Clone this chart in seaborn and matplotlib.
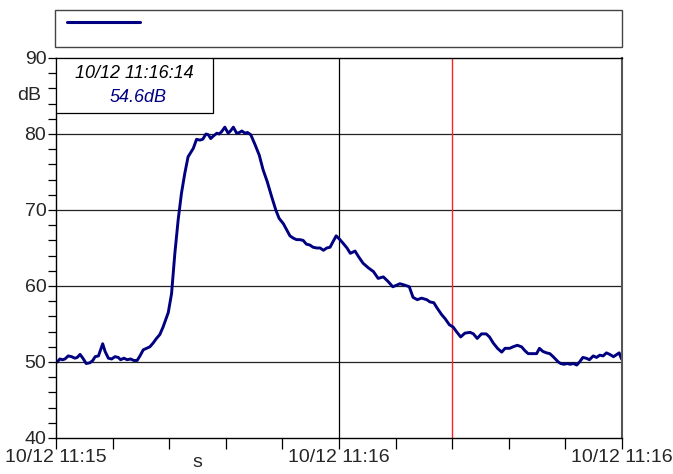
import pandas as pd
import matplotlib
matplotlib.use("Agg")
import matplotlib.pyplot as plt
import matplotlib.transforms as mtransforms
from matplotlib.patches import Rectangle
from matplotlib.lines import Line2D
import seaborn as sns

# seconds after 10/12 11:15
seconds = [0.0, 0.3, 0.8, 1.4, 1.9, 2.6, 3.3, 4.0, 4.5, 5.1, 5.7, 6.4, 7.2, 7.8, 8.3, 9.0,
           9.9, 10.4, 11.1, 11.8, 12.5, 13.2, 13.7, 14.4, 15.1, 15.8, 16.5, 17.2, 17.8,
           18.5, 19.2, 19.9, 20.6, 21.3, 22.0, 22.7, 23.8, 24.5, 25.2, 25.9, 26.6, 27.3,
           28.0, 29.1, 29.8, 30.5, 31.1, 31.8, 32.3, 32.8, 33.3, 34.1, 34.6, 35.1, 35.8,
           36.5, 37.0, 37.6, 38.3, 38.9, 39.4, 40.1, 40.6, 41.3, 42.2, 43.1, 43.9, 44.8,
           45.7, 46.6, 47.3, 48.2, 48.9, 49.6, 50.3, 51.0, 51.7, 52.4, 53.1, 53.8, 54.5,
           55.3, 56.0, 56.7, 57.4, 58.1, 58.7, 59.4, 60.2, 60.9, 61.7, 62.4, 63.4, 64.1,
           65.1, 66.2, 67.3, 68.3, 69.4, 70.4, 71.4, 72.2, 72.9, 74.0, 74.9, 75.7, 76.6,
           77.5, 78.6, 79.3, 80.1, 80.8, 81.8, 82.5, 83.4, 84.2, 84.9, 85.8, 86.7, 87.8,
           88.5, 89.3, 90.2, 91.2, 91.9, 92.7, 93.6, 94.5, 95.2, 96.2, 96.9, 97.8, 98.7,
           99.4, 100.1, 101.1, 101.9, 102.5, 103.2, 104.0, 104.7, 105.4, 106.5, 107.0,
           107.7, 108.4, 109.0, 109.7, 110.4, 111.0, 111.7, 112.4, 113.1, 113.9, 114.6,
           115.3, 116.0, 116.7, 117.4, 118.2, 118.9, 119.4, 119.9]
level_db = [50.1, 50.0, 50.4, 50.3, 50.4, 50.8, 50.7, 50.5, 50.6, 51.0, 50.5, 49.8, 49.9,
            50.2, 50.7, 50.8, 52.4, 51.4, 50.5, 50.4, 50.7, 50.6, 50.3, 50.5, 50.3, 50.4,
            50.2, 50.2, 50.8, 51.6, 51.8, 52.0, 52.5, 53.1, 53.6, 54.6, 56.5, 59.0, 64.3,
            68.7, 72.2, 74.8, 77.0, 78.1, 79.3, 79.2, 79.3, 80.0, 79.9, 79.4, 79.7, 80.1,
            80.0, 80.3, 80.9, 80.1, 80.4, 80.9, 80.1, 80.2, 80.4, 80.1, 80.2, 79.9, 78.6,
            77.2, 75.3, 73.7, 71.8, 70.0, 68.9, 68.2, 67.4, 66.6, 66.3, 66.1, 66.1, 66.0,
            65.5, 65.4, 65.1, 65.0, 65.0, 64.7, 65.0, 65.1, 65.8, 66.6, 66.1, 65.6, 65.0,
            64.3, 64.6, 63.9, 63.0, 62.4, 61.9, 61.0, 61.2, 60.6, 59.9, 60.1, 60.3, 60.1,
            59.9, 58.5, 58.2, 58.4, 58.2, 57.9, 57.8, 57.1, 56.2, 55.7, 54.9, 54.6, 54.0,
            53.3, 53.8, 53.9, 53.7, 53.1, 53.7, 53.7, 53.3, 52.5, 51.8, 51.3, 51.8, 51.8,
            52.0, 52.2, 52.0, 51.5, 51.1, 51.1, 51.1, 51.8, 51.4, 51.2, 51.1, 50.7, 50.0,
            49.8, 49.7, 49.8, 49.7, 49.8, 49.6, 50.0, 50.6, 50.5, 50.3, 50.8, 50.6, 50.9,
            50.8, 51.2, 51.0, 50.7, 51.0, 51.2, 50.4]

x_tick_pos = [0, 60, 120]
x_tick_labels = ["10/12 11:15", "10/12 11:16", "10/12 11:16"]
y_ticks = [40, 50, 60, 70, 80, 90]
cursor_sec = 84.0
cursor_time = "10/12 11:16:14"
cursor_value = "54.6dB"

df = pd.DataFrame({"t": seconds, "dB": level_db})

sns.set_style("white")
plt.rcParams["font.family"] = ["Liberation Sans Narrow", "Liberation Sans", "DejaVu Sans"]

fig = plt.figure(figsize=(6.73, 4.74), dpi=100)
ax = fig.add_axes([56 / 673, 1 - 438 / 474, 566 / 673, 380 / 474])

navy = "#000080"
sns.lineplot(data=df, x="t", y="dB", ax=ax, color=navy, linewidth=2.1)

ax.set_xlim(0, 120)
ax.set_ylim(40, 90)
ax.set_xlabel("")
ax.set_ylabel("")

for v in [50, 60, 70, 80]:
    ax.axhline(v, color="#222222", lw=0.9, zorder=1)
ax.axvline(60, color="black", lw=0.9, zorder=1)
ax.axvline(cursor_sec, color="#ff2020", lw=1.0, zorder=1)

ax.set_yticks(y_ticks)
ax.set_yticks(range(40, 91, 2), minor=True)
ax.set_xticks(x_tick_pos)
ax.set_xticklabels(x_tick_labels)
ax.set_xticks(range(0, 121, 12), minor=True)
ax.tick_params(axis="y", which="both", direction="out", length=6, width=0.9,
               color="black", labelsize=14, pad=1, left=True)
ax.tick_params(axis="x", which="both", direction="out", length=8, width=0.9,
               color="black", labelsize=14, pad=0, bottom=True)

for side in ["left", "bottom", "top"]:
    ax.spines[side].set_color("black")
    ax.spines[side].set_linewidth(1.0)
ax.spines["right"].set_color("#555555")
ax.spines["right"].set_linewidth(1.5)

blend = mtransforms.blended_transform_factory(ax.transData, ax.transAxes)
ax.text(30, -0.042, "s", transform=blend, ha="center", va="top", fontsize=14)
ax.text(-0.047, 0.9, "dB", transform=ax.transAxes, ha="center", va="center", fontsize=14)

# cursor readout box
ax.add_patch(Rectangle((0, 1 - 55 / 380), 157 / 566, 55 / 380,
                       transform=ax.transAxes, facecolor="white", edgecolor="black",
                       lw=0.9, zorder=5))
ax.text(78 / 566, 1 - 16 / 380, cursor_time, transform=ax.transAxes, ha="center",
        va="center", fontsize=13, style="italic", color="black", zorder=6)
ax.text(82 / 566, 1 - 39 / 380, cursor_value, transform=ax.transAxes, ha="center",
        va="center", fontsize=13, style="italic", color=navy, zorder=6)

# legend strip
fig.patches.append(Rectangle((55 / 673, 1 - 47 / 474), 567 / 673, 37 / 474,
                             transform=fig.transFigure, facecolor="white",
                             edgecolor="#444444", lw=1.0))
fig.lines.append(Line2D([67 / 673, 140 / 673], [1 - 22 / 474, 1 - 22 / 474],
                        transform=fig.transFigure, color=navy, lw=2.2))

fig.savefig("out.png", dpi=100)
